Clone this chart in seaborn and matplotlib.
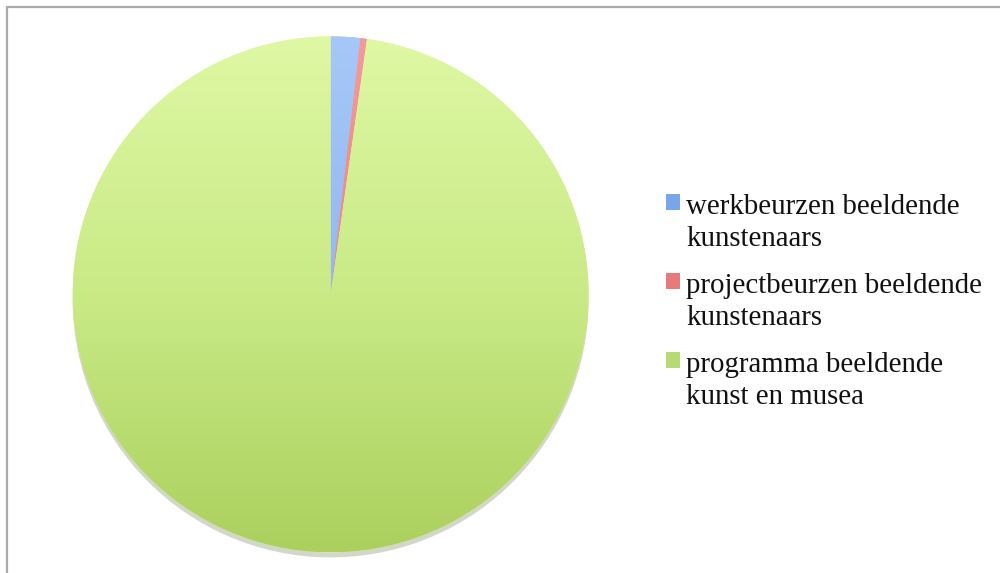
import numpy as np
import matplotlib
matplotlib.use("Agg")
import matplotlib.pyplot as plt
import seaborn as sns
from matplotlib.colors import LinearSegmentedColormap

sns.set_theme(style="white")

categories = ["werkbeurzen beeldende\nkunstenaars",
              "projectbeurzen beeldende\nkunstenaars",
              "programma beeldende\nkunst en musea"]
values = [1.85, 0.4, 97.75]
top_colors = ["#a6c8f8", "#f49a9a", "#dff8a4"]
mid_colors = ["#93b8f0", "#ea8585", "#c9ea86"]
bottom_colors = ["#7fa8e6", "#e07070", "#acd05e"]
legend_colors = ["#78a6e8", "#e77b7b", "#b8da74"]

fig = plt.figure(figsize=(10, 5.73), dpi=100)
fig.patch.set_facecolor("white")

# frame lines (top and left)
fig.add_artist(plt.Line2D([0.007, 1.0], [1 - 7 / 573, 1 - 7 / 573], color="#aaaaaa", lw=1.6,
                          transform=fig.transFigure))
fig.add_artist(plt.Line2D([0.007, 0.007], [0, 1 - 7 / 573], color="#aaaaaa", lw=1.6,
                          transform=fig.transFigure))

ax = fig.add_axes([0.072, 0.0349, 0.516, 0.9005])
wedges, _ = ax.pie(values, startangle=90, counterclock=False, radius=1,
                   colors=top_colors,
                   shadow={"ox": 0.0, "oy": -0.014, "shade": 0.5, "alpha": 0.3},
                   wedgeprops=dict(linewidth=0))
ax.set_position([0.072 - 0.05 * 0.516 / 2.1 * 2 / 2, 0.0349 - 0.05 * 0.9005 / 2.1, 0.516 * 2.1 / 2, 0.9005 * 2.1 / 2])
ax.set_aspect("equal")
ax.axis("off")

# vertical gradient fill for each wedge
grad = np.linspace(0, 1, 256).reshape(-1, 1)
for w, ct, cm, cb in zip(wedges, top_colors, mid_colors, bottom_colors):
    cmap = LinearSegmentedColormap.from_list("g", [ct, cm, cb])
    im = ax.imshow(grad, cmap=cmap, extent=[-1, 1, -1, 1], origin="upper",
                   aspect="auto", zorder=w.get_zorder() + 0.1, interpolation="bilinear")
    im.set_clip_path(w)
ax.set_xlim(-1.05, 1.05)
ax.set_ylim(-1.05, 1.05)

handles = [plt.Rectangle((0, 0), 1, 1, facecolor=c, edgecolor="none") for c in legend_colors]
leg = fig.legend(handles, categories, loc="upper left",
                 bbox_to_anchor=(0.666, 1 - 194 / 573), frameon=False,
                 prop={"family": "Liberation Serif", "size": 20.8},
                 handlelength=0.47, handleheight=0.47, handletextpad=0.23,
                 labelspacing=0.745, borderpad=0, borderaxespad=0)
for col in leg._legend_handle_box.get_children():
    for item in col.get_children():
        item.align = "top"
for t in leg.get_texts():
    t.set_color("#111111")
    t.set_linespacing(1.28)

fig.savefig("out.png", dpi=100)
